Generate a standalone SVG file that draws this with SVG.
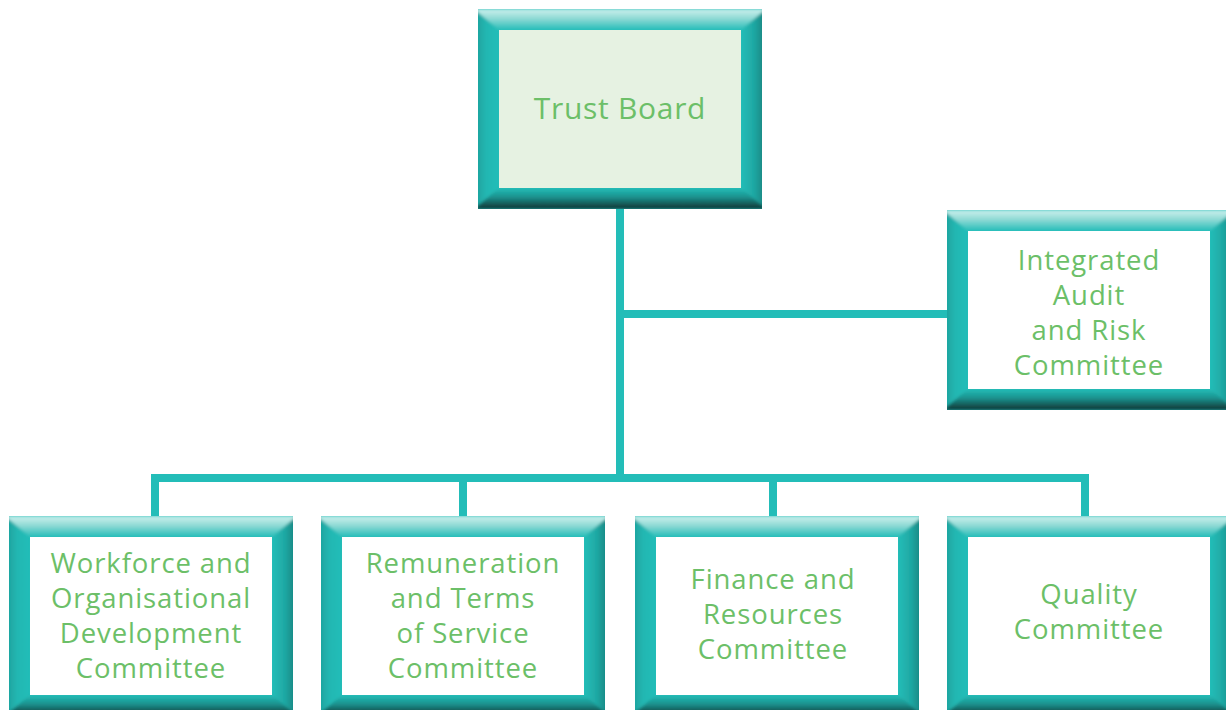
<svg xmlns="http://www.w3.org/2000/svg" xmlns:xlink="http://www.w3.org/1999/xlink" width="1226" height="710" viewBox="0 0 1226 710">
  <style>
    .lbl { font-family: "Open Sans", "Noto Sans", "Liberation Sans", sans-serif; fill: #6cbf68; text-anchor: middle; }
    .big { font-size: 30px; letter-spacing: 0.7px; }
    .sm { font-size: 27.5px; letter-spacing: 0.9px; }
    .wire { fill: #23bdb8; }
    .inner { fill: #ffffff; }
    .inner-board { fill: #e6f2e2; }
  </style>
  <defs>
    <linearGradient id="gTop" x1="0" y1="0" x2="0" y2="1">
      <stop offset="0" stop-color="#cdf0ed"/>
      <stop offset="0.45" stop-color="#8fdad5"/>
      <stop offset="1" stop-color="#23bdb8"/>
    </linearGradient>
    <linearGradient id="gBottom" x1="0" y1="0" x2="0" y2="1">
      <stop offset="0" stop-color="#23bdb8"/>
      <stop offset="0.45" stop-color="#1b8f8b"/>
      <stop offset="1" stop-color="#0e302e"/>
    </linearGradient>
    <linearGradient id="gLeft" x1="0" y1="0" x2="1" y2="0">
      <stop offset="0" stop-color="#1d9d99"/>
      <stop offset="0.5" stop-color="#22b7b2"/>
      <stop offset="1" stop-color="#23bdb8"/>
    </linearGradient>
    <linearGradient id="gRight" x1="0" y1="0" x2="1" y2="0">
      <stop offset="0" stop-color="#23bdb8"/>
      <stop offset="0.5" stop-color="#1fa9a4"/>
      <stop offset="1" stop-color="#16807c"/>
    </linearGradient>
    <filter id="soften" x="-5%" y="-5%" width="110%" height="110%">
      <feGaussianBlur stdDeviation="1.6"/>
    </filter>
    <clipPath id="frameClip">
      <rect x="0" y="0" width="284" height="200"/>
    </clipPath>
    <!-- bevelled teal frame, 284 x 200 with a 21px border; bevel seams softened -->
    <g id="frame">
      <rect x="0" y="0" width="284" height="200" fill="#23bdb8"/>
      <g clip-path="url(#frameClip)">
        <g filter="url(#soften)">
          <polygon points="-4,-4 21,21 21,179 -4,204" fill="url(#gLeft)"/>
          <polygon points="288,-4 263,21 263,179 288,204" fill="url(#gRight)"/>
          <polygon points="-4,0 288,0 263,21 21,21" fill="url(#gTop)"/>
          <polygon points="-4,200 288,200 263,179 21,179" fill="url(#gBottom)"/>
        </g>
      </g>
    </g>
  </defs>

  <rect width="1226" height="710" fill="#ffffff"/>

  <!-- connectors -->
  <g id="connectors">
    <rect class="wire" x="616" y="208" width="8" height="274"/>
    <rect class="wire" x="620" y="310" width="328" height="8"/>
    <rect class="wire" x="151" y="474" width="938" height="8"/>
    <rect class="wire" x="151" y="474" width="8" height="43"/>
    <rect class="wire" x="459" y="474" width="8" height="43"/>
    <rect class="wire" x="769" y="474" width="8" height="43"/>
    <rect class="wire" x="1081" y="474" width="8" height="43"/>
  </g>

  <g id="trust-board">
    <use xlink:href="#frame" x="478" y="9"/>
    <rect class="inner-board" x="499" y="30" width="242" height="158"/>
    <text class="lbl big" x="620" y="119">Trust Board</text>
  </g>

  <g id="audit-risk">
    <use xlink:href="#frame" x="947" y="210"/>
    <rect class="inner" x="968" y="231" width="242" height="158"/>
    <text class="lbl sm" x="1089" y="270">Integrated</text>
    <text class="lbl sm" x="1089" y="305">Audit</text>
    <text class="lbl sm" x="1089" y="340">and Risk</text>
    <text class="lbl sm" x="1089" y="375">Committee</text>
  </g>

  <g id="workforce">
    <use xlink:href="#frame" x="9" y="516"/>
    <rect class="inner" x="30" y="537" width="242" height="158"/>
    <text class="lbl sm" x="151" y="573">Workforce and</text>
    <text class="lbl sm" x="151" y="608">Organisational</text>
    <text class="lbl sm" x="151" y="643">Development</text>
    <text class="lbl sm" x="151" y="678">Committee</text>
  </g>

  <g id="remuneration">
    <use xlink:href="#frame" x="321" y="516"/>
    <rect class="inner" x="342" y="537" width="242" height="158"/>
    <text class="lbl sm" x="463" y="573">Remuneration</text>
    <text class="lbl sm" x="463" y="608">and Terms</text>
    <text class="lbl sm" x="463" y="643">of Service</text>
    <text class="lbl sm" x="463" y="678">Committee</text>
  </g>

  <g id="finance">
    <use xlink:href="#frame" x="635" y="516"/>
    <rect class="inner" x="656" y="537" width="242" height="158"/>
    <text class="lbl sm" x="773" y="589">Finance and</text>
    <text class="lbl sm" x="773" y="624">Resources</text>
    <text class="lbl sm" x="773" y="659">Committee</text>
  </g>

  <g id="quality">
    <use xlink:href="#frame" x="947" y="516"/>
    <rect class="inner" x="968" y="537" width="242" height="158"/>
    <text class="lbl sm" x="1089" y="604">Quality</text>
    <text class="lbl sm" x="1089" y="639">Committee</text>
  </g>
</svg>
